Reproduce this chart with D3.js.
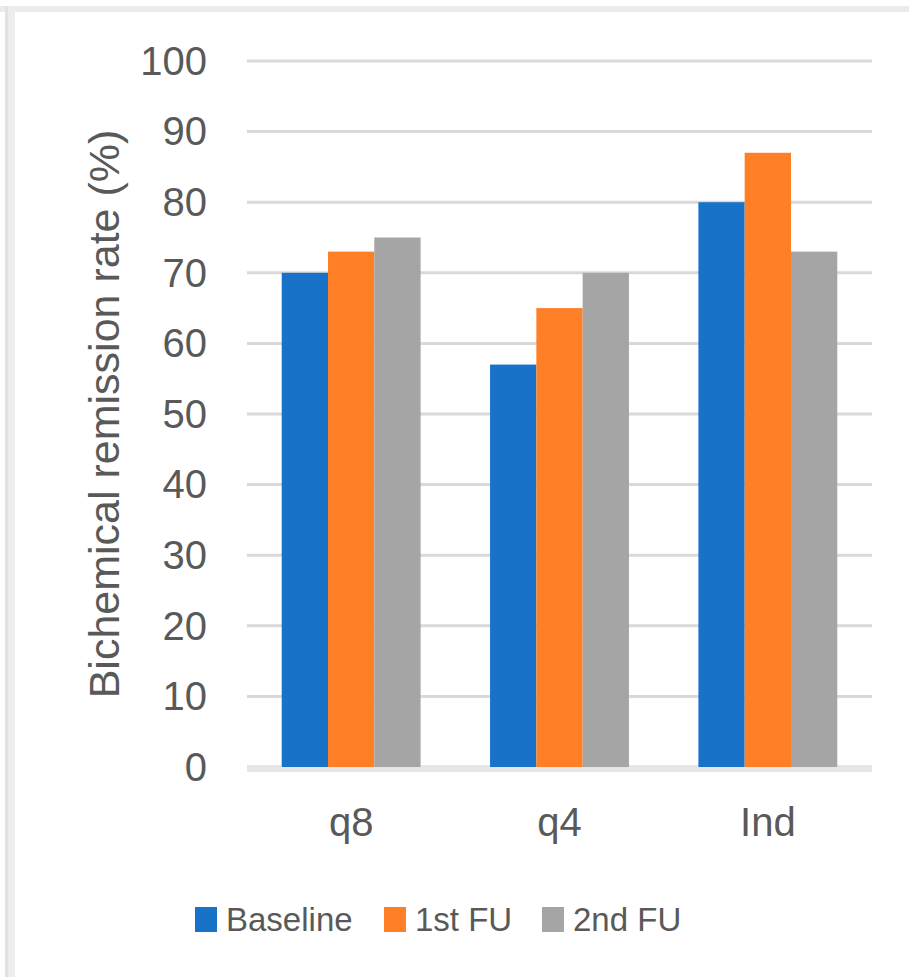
<!DOCTYPE html>
<html>
<head>
<meta charset="utf-8">
<script src="https://cdn.jsdelivr.net/npm/d3@7"></script>
<style>
  html, body { margin: 0; padding: 0; background: #ffffff; }
  svg { display: block; }
</style>
</head>
<body>
<svg id="chart" width="909" height="977"></svg>
<script>
// ---- data ----
const categories = ["q8", "q4", "Ind"];
const seriesNames = ["Baseline", "1st FU", "2nd FU"];
const baseline = [70, 57, 80];
const firstFU = [73, 65, 87];
const secondFU = [75, 70, 73];
const yTicks = [0, 10, 20, 30, 40, 50, 60, 70, 80, 90, 100];
const yTitle = "Bichemical remission rate (%)";
const colors = ["#1872C8", "#FF7F27", "#A5A5A5"];

const seriesValues = [baseline, firstFU, secondFU];

const svg = d3.select("#chart");
const W = 909, H = 977;
const textColor = "#595959";
const font = "'Liberation Sans', Arial, sans-serif";

// frame
svg.append("rect").attr("x", 0).attr("y", 6).attr("width", W).attr("height", 6).attr("fill", "#ebebeb");
svg.append("rect").attr("x", 5).attr("y", 6).attr("width", 10).attr("height", H - 6).attr("fill", "#ededed");
svg.append("rect").attr("x", 5).attr("y", 6).attr("width", 3).attr("height", H - 6).attr("fill", "#e2e2e2");

const plotLeft = 247, plotRight = 872, plotTop = 61, plotBottom = 767;

const y = d3.scaleLinear().domain([0, 100]).range([plotBottom, plotTop]);
const x0 = d3.scaleBand().domain(categories).range([plotLeft, plotRight])
  .paddingInner(1/3).paddingOuter(1/6);
const x1 = d3.scaleBand().domain(seriesNames).range([0, x0.bandwidth()]).padding(0);

// gridlines
svg.append("g").selectAll("line")
  .data(yTicks.filter(d => d !== 0))
  .join("line")
  .attr("x1", plotLeft).attr("x2", plotRight)
  .attr("y1", d => y(d)).attr("y2", d => y(d))
  .attr("stroke", "#d9d9d9").attr("stroke-width", 3);

// zero axis line
svg.append("line")
  .attr("x1", plotLeft).attr("x2", plotRight)
  .attr("y1", y(0) + 1.5).attr("y2", y(0) + 1.5)
  .attr("stroke", "#e6e6e6").attr("stroke-width", 7);

// bars
const rows = [];
categories.forEach((c, i) => {
  seriesNames.forEach((s, j) => rows.push({ cat: c, series: s, value: seriesValues[j][i], color: colors[j] }));
});
svg.append("g").selectAll("rect")
  .data(rows)
  .join("rect")
  .attr("x", d => x0(d.cat) + x1(d.series))
  .attr("y", d => y(d.value))
  .attr("width", x1.bandwidth())
  .attr("height", d => y(0) - y(d.value))
  .attr("fill", d => d.color);

// y axis tick labels
const yAxis = d3.axisLeft(y).tickValues(yTicks).tickSize(0).tickPadding(0);
const gy = svg.append("g").attr("transform", "translate(207,0)").call(yAxis);
gy.select(".domain").remove();
gy.selectAll("text")
  .attr("font-family", font).attr("font-size", 40).attr("fill", textColor)
  .attr("dy", "0.33em");

// x axis labels
const xAxis = d3.axisBottom(x0).tickSize(0).tickPadding(0);
const gx = svg.append("g").attr("transform", "translate(0,836)").call(xAxis);
gx.select(".domain").remove();
gx.selectAll("text")
  .attr("font-family", font).attr("font-size", 40).attr("fill", textColor)
  .attr("dy", 0).attr("y", 0);

// y title
svg.append("text")
  .attr("transform", "translate(119,414) rotate(-90)")
  .attr("text-anchor", "middle")
  .attr("font-family", font).attr("font-size", 43).attr("fill", textColor)
  .text(yTitle);

// legend
const legendX = [195, 384, 542];
const lg = svg.append("g");
seriesNames.forEach((s, j) => {
  lg.append("rect").attr("x", legendX[j]).attr("y", 907).attr("width", 22).attr("height", 25).attr("fill", colors[j]);
  lg.append("text").attr("x", legendX[j] + 31).attr("y", 931)
    .attr("font-family", font)
    .attr("font-size", 33).attr("fill", textColor)
    .text(s);
});
</script>
</body>
</html>
